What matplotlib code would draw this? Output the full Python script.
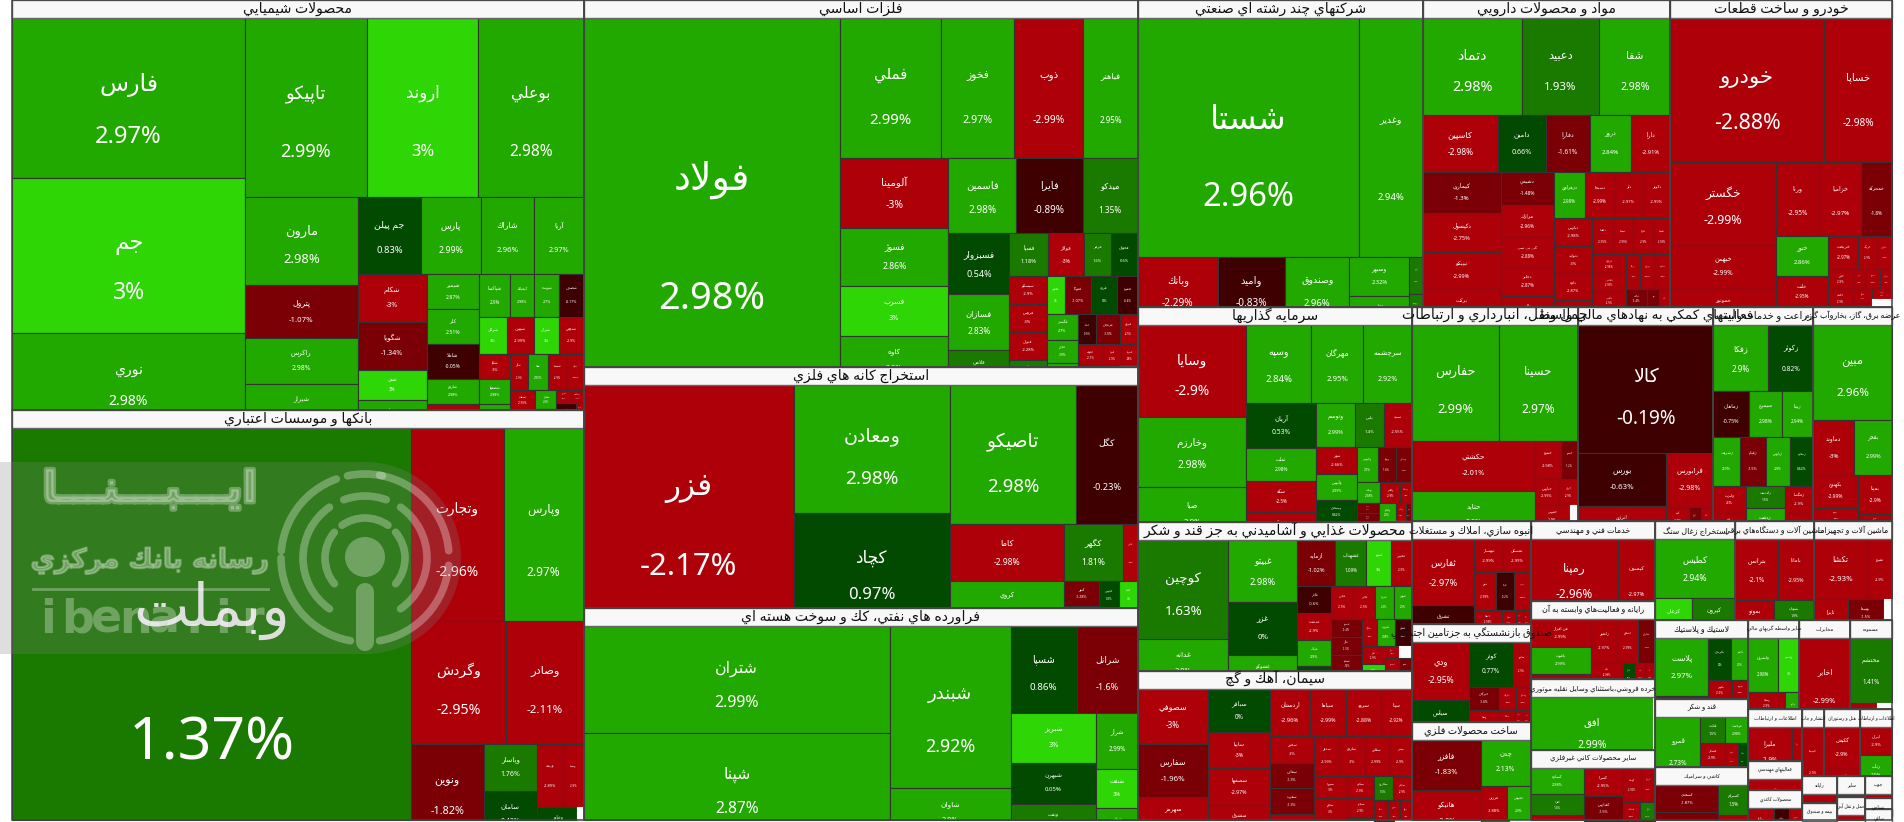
import numpy as np
import matplotlib
matplotlib.use('Agg')
import matplotlib.pyplot as plt
import matplotlib.patheffects as pe
from matplotlib.patches import Arc, Polygon, Rectangle
from matplotlib.transforms import Bbox, TransformedBbox

# Market map of the day: one block per industry, one cell per ticker.
# Each industry has three lists: ticker, daily change in percent, market weight.
# None marks the unused remainder of a block, which stays white.

chem_names = ['فارس', 'جم', 'نوري', 'تاپيكو', 'اروند', 'بوعلي', 'مارون', 'پترول', 'راكرس', 'شيراز',
              'جم پيلن', 'پارس', 'شاراك', 'آريا', 'شكام', 'شگويا', 'شفن', 'شپنا',
              'شيمير', 'كلر', 'شاملا', 'شاروم', 'شغدير', 'شپاكسا', 'كيمياتك', 'شوينده', 'شصدف',
              'شرانل', 'شبهرن', 'شيران', 'شدوص', 'شليا', 'شصفها', 'شلعاب', 'شگل', 'شفا', 'شسينا', 'شلرد',
              'شنفت', 'شتوكا', 'شكلر', 'شفارس', 'شبريز', 'شساخت', 'شكربن', 'شزنگ', 'شرنگي', 'شكف']
chem_changes = [2.97, 3, 2.98, 2.99, 3, 2.98, 2.98, -1.07, 2.98, 2.97,
                0.83, 2.99, 2.96, 2.97, -3, -1.34, 3, 2.9,
                2.87, 2.51, -0.05, 2.98, -2.9, 2.9, 2.98, 2.7, -0.17,
                3, -2.99, 3, -2.9, -3, 2.98, 2.99, -2.9, 2.95, -2.9, -2.98,
                -2.95, 2.9, 2.8, -2.9, -2.7, -2.9, -0.5, -2.9, -2.8, -2.9]
chem_caps = [373, 361, 221, 217, 200, 188, 99, 59, 52, 49,
             49, 46, 41, 38, 33, 33, 21, 19,
             18.5, 18.5, 18, 13.5, 12.5, 13, 10.5, 10.5, 10.5,
             10.2, 9.8, 9.4, 9, 7.8, 7.6, 7.4, 6.4, 7.4, 6.9, 5.9,
             5.2, 4.4, 4, 4, 1.9, 1.7, 3.4, 1.5, 1, 0.8]

bank_names = ['وبملت', 'وتجارت', 'وپارس', 'وگردش', 'وصادر', 'ونوين', 'وپاسار', 'سامان', 'وبيمه', 'وسينا', 'وخاور', '']
bank_changes = [1.37, -2.96, 2.97, -2.95, -2.11, -1.82, 1.76, 0.42, -2.89, -2.9, 0.6, None]
bank_caps = [1632, 179, 154, 117, 95, 69, 25, 25, 16.6, 12.8, 12.5, 1.9]

metal_names = ['فولاد', 'فملي', 'فخوز', 'ذوب', 'فباهنر', 'آلومينا', 'فسوژ', 'فسرب', 'كاوه',
               'فاسمين', 'فايرا', 'ميدكو', 'فسبزوار', 'فسازان', 'فلامي',
               'فسپا', 'فولاژ', 'هرمز', 'فجهان', 'سيسكو', 'فروس', 'فنوال', 'فرآور', 'فخاس',
               'فتوكا', 'فرود', 'فاهواز', 'فگستر', 'فجام', 'فكمند', 'فپنتا',
               'فزنجان', 'فنرژي', 'فلوله', 'فاما', 'فبيرا', 'فمراد', 'فوكا', '']
metal_changes = [2.98, 2.99, 2.97, -2.99, 2.95, -3, 2.86, 3, 2.9,
                 2.98, -0.89, 1.35, 0.54, 2.83, 1.5,
                 1.18, -3, 1.6, 0.6, -2.9, -3, -2.28, 1.5, 3,
                 -1.07, 0, -0.4, 2.7, 2.9, 2.9, -0.6,
                 -1.5, -2.5, -2.7, -1.6, -2.9, -2.8, -2.7, None]
metal_caps = [940, 141, 101, 97, 76, 76, 63, 54, 53,
              51, 50.5, 42, 37, 34, 21,
              16.5, 15, 11.5, 11.5, 10.5, 10.5, 10.5, 9.3, 7,
              10, 10, 8, 8, 7.2, 6.9, 5.5,
              7, 5.5, 5.3, 5, 4, 3.8, 3, 3.5]

mine_names = ['فزر', 'ومعادن', 'كچاد', 'تاصيكو', 'كگل', 'كاما', 'كروي', 'كگهر', 'كبافق', 'كنور', 'كميا', 'كپارس', 'كدما', 'كوير', 'كسرا']
mine_changes = [-2.17, 2.98, 0.97, 2.98, -0.23, -2.98, 2.9, 1.81, -2.9, -1.28, -1.5, 0.3, 3, -2.9, -1.2]
mine_caps = [506, 200, 176, 175, 86, 65, 51, 33.6, 8.6, 8.7, 7, 5.6, 5.3, 3.6, 3]

oil_names = ['شتران', 'شپنا', 'شبندر', 'شاوان', 'شسپا', 'شرانل', 'شبريز', 'شبهرن', 'ونفت', 'شراز', 'شنفت', 'شپاس']
oil_changes = [2.99, 2.87, 2.92, 2.9, 0.86, -1.6, 3, 0.05, 1.5, 2.99, 3, 2.9]
oil_caps = [327, 321, 196, 60, 57, 53, 42.5, 35, 29, 23.5, 16.4, 12.6]

multi_names = ['شستا', 'وغدير', 'وبانك', 'واميد', 'وصندوق', 'وسبهر', 'وملي', 'وآذر', 'وتوسم']
multi_changes = [2.96, 2.94, -2.29, -0.83, 2.96, 2.32, 2.3, 1.5, 1.5]
multi_caps = [526, 152, 54, 46, 43.5, 23.4, 17.4, 5, 4]

pharma_names = ['دتماد', 'دعبيد', 'شفا', 'كاسپين', 'دامين', 'دفارا', 'دروز', 'دارا',
                'كيماري', 'دكپسول', 'تيپيكو', 'بركت',
                'دشيمي', 'مرازك', 'كي بي سي', 'دجابر', 'دالبر',
                'دزهراوي', 'دسبحا', 'دلر', 'دكوثر', 'دپارس', 'دتوليد', 'داوه', 'ددانا',
                'دلقما', 'دسينا', 'دفرا', 'دشيما', 'درازك', 'دقاضي', 'دكيمي',
                'ديران', 'درملا', 'دتهران', 'دماوند', 'دبالك', 'دپويا', 'دبيو', 'دنيك', '']
pharma_changes = [2.98, 1.93, 2.98, -2.98, 0.66, -1.61, 2.84, -2.91,
                  -1.3, -2.75, -2.99, -2.9,
                  -1.48, -2.96, -2.88, -2.87, -2.9,
                  2.98, -2.99, -2.97, -2.99, -2.98, -3, -2.87, -2.9,
                  -2.95, -2.99, -2.9, -2.98, -2.98, -2.95, -2.9,
                  -2.98, -2.9, -2.97, -2.9, -1.4, -2.9, -1.2, -2.9, None]
pharma_caps = [93, 73, 67, 41, 26.5, 23.6, 22.6, 21.5,
               31.5, 29, 28, 27,
               17.3, 17, 15.3, 15.3, 15,
               13.8, 13.3, 12.5, 12.5, 10.2, 10.2, 9.8, 9,
               7.4, 7, 7, 6.1, 6.2, 5.9, 5.8,
               5.2, 4.7, 5, 5, 4, 3.4, 3, 3, 2]

auto_names = ['خودرو', 'خساپا', 'خگستر', 'خبهمن', 'خموتور', 'ورنا', 'خزاميا', 'خمحركه', 'ختور', 'خلنت', 'خكار',
              'خريخت', 'خرينگ', 'خپارس', 'خاور', 'خكمك', 'خشرق', 'خفنر', 'خمهر', 'خديزل', 'خفولا',
              'خنصير', 'خبنيان', 'خوساز', '']
auto_changes = [-2.88, -2.98, -2.99, -2.99, -2.9, -2.95, -2.97, -1.8, 2.86, -2.95, -2.9,
                -2.97, -2.9, -2.9, -2.9, -2.9, -2.9, -2.9, -2.9, -2.9, -2.9,
                -2.9, -2.9, -2.9, None]
auto_caps = [217, 96, 86, 46, 37, 32, 30.5, 22.7, 20.6, 16, 9,
             9.7, 6, 4.8, 5, 4.6, 4.1, 2.4, 3, 2.4, 2.5,
             2.2, 1.9, 1.9, 5]

invest_names = ['وسايا', 'وخارزم', 'صبا', 'وسپه', 'مهرگان', 'سرچشمه', 'آريان', 'ثملت', 'سكه', 'سمكه',
                'وتوسم', 'پاس', 'سپيد', 'شهر', 'وآتوس', 'وسبحان', 'پارس', 'وكبهمن',
                'وپويا', 'ومشان', 'بهپاك', 'ولغدر', 'وسكاب', 'وبوعلي', 'وسمان', 'وسپهر', 'ولتجار', 'وساخت', 'وسنا', '']
invest_changes = [-2.9, 2.98, 2.9, 2.84, 2.95, 2.92, 0.53, 2.98, -2.5, -2.9,
                  2.99, 1.4, -2.55, -2.66, 2.99, 0.62, 2.98, 2.9,
                  -1.6, -1.5, 2.98, -2.9, -2.9, -1.5, -1.4, 0.5, 2.9, -2.9, -1.2, None]
invest_caps = [98, 74, 56, 49.4, 40, 37, 30.8, 22, 21.4, 19,
               16.6, 12.5, 12, 10.9, 10.3, 9.2, 7, 7,
               6, 5.5, 4.7, 4.1, 2.4, 2, 1.9, 3.8, 3, 1.8, 1, 6.2]

food_names = ['كوچين', 'غدانه', 'غبيتو', 'غزر', 'غشوكو', 'ازمايه', 'غشهداب', 'غپينو', 'غفارس',
              'غاذر', 'غدشت', 'غپاك', 'غگرجي', 'غچين', 'غالبر', 'غمهرا', 'غنوش', 'غصينو',
              'غگل', 'غسالم', 'غمينو', 'غمارگ', 'غفروت', 'غشان', 'غلر', 'غديس', 'غناب', 'غويتا', '',
              'غبشهر', 'غسهند', 'غرفاه', 'غكورش']
food_changes = [1.63, 2.9, 2.98, 0, 2.9, -1.02, 1.09, 3, -2.9,
                -0.6, -2.9, 2.9, 0.5, -2.9, -2.9, 2.9, 2.9, -1.4,
                -1.5, -1.6, 2.98, -2.9, 2.98, -0.6, -2.9, 3, 0.5, -2.9, None,
                -2.9, -1.6, -0.4, -0.4]
food_caps = [87, 44, 41.5, 35.5, 22.8, 16.8, 13.8, 11.2, 9,
             9, 9, 8.6, 7.8, 7, 6.9, 6, 5.7, 5.4,
             5.4, 5.1, 5.1, 4, 4.8, 4.5, 4, 3.7, 1.9, 1.7, 1.5,
             3, 2.5, 1.5, 1.2]

cement_names = ['سصوفي', 'سفارس', 'سهرمز', 'سباقر', 'ساپيا', 'سصفها', 'سشرق', 'اردستان', 'سپاها', 'سرود', 'سيتا',
                'سخزر', 'سمازن', 'سغرب', 'سكرما', 'سدور', 'ساروم', 'سقاين', 'سنير',
                'سبزوا', 'سجام', 'سفانو', 'سكرد', 'سبجنو', 'ساوه', 'سكارون', 'سايلم', 'سپاه',
                'سنوين', 'سيلام', 'سدشت', '']
cement_changes = [-3, -1.96, -2.9, 0, -3, -2.97, -2.9, -2.96, -2.99, -2.88, -2.92,
                  -3, -1.3, -1.3, -2.9, -2.99, -3, -2.99, -2.9,
                  -3, -3, -1.6, -2.9, -2.9, -2.9, 1.5, -2.9, -2.9,
                  -2.9, -2.9, -2.9, None]
cement_caps = [36.9, 35.5, 27.5, 25.8, 21.6, 21.6, 20, 18, 16.3, 15.8, 14,
               11, 10.7, 10.7, 10, 9.7, 9.7, 9, 8.8,
               7, 6.7, 6.1, 5.7, 5.1, 5.1, 4.3, 4.4, 3.5,
               3, 2.8, 2.6, 2]

trans_names = ['حفارس', 'حسينا', 'حكشتي', 'حتايد', 'حپترو', 'حسير', 'حپارس', 'حريل', 'حفرس', 'حتوكا', '']
trans_changes = [2.99, 2.97, -2.01, 2.9, -2.98, -1.2, -2.99, -2.9, -2.9, -2.9, None]
trans_caps = [101, 93, 61.5, 59, 9.9, 6.8, 6.2, 4.8, 8, 4.2, 2.8]

aux_names = ['كالا', 'بورس', 'انرژي', 'فرابورس', 'آتيه', 'سپرده', 'اوراق', 'ساتا', 'تسويه']
aux_changes = [-0.19, -0.63, -2.9, -2.98, -2.9, -2.9, -1.5, -2.9, -2.9]
aux_caps = [170, 45, 28.6, 25, 5, 2.6, 2.6, 3, 2]

agri_names = ['زفكا', 'زكوثر', 'زماهان', 'سيمرغ', 'زبينا', 'زشريف', 'زقيام', 'زپارس', 'زملارد', 'ولبرت',
              'زنگان', 'زگلدشت', 'زدشت', 'زمگسا', 'زشام']
agri_changes = [2.9, 0.82, -0.75, 2.98, 2.94, 2.9, -1.5, 2.9, 0.62, -3, -2.9, 1.5, 2.9, -2.9, -2.9]
agri_caps = [36.3, 29.7, 16.2, 14.9, 14, 13.2, 12.7, 11.8, 11.3, 8.6, 8.6, 8.4, 12, 7.6, 7.4]

power_names = ['مبين', 'دماوند', 'بفجر', 'بكهنوج', 'بپيوند', 'بزاگرس', 'بمپنا', 'بسويچ', '']
power_changes = [2.96, -3, 2.99, -2.99, -2.9, -1.8, -2.9, -2.9, None]
power_caps = [72.7, 21.7, 20, 14.4, 7.2, 6.5, 13, 3.9, 4.2]

build_names = ['ثفارس', 'ثشرق', 'ثبهساز', 'ثمسكن', 'ثنور', 'ثاباد', 'ثغرب', 'ثاصفا', 'ثپرديس', 'ثعمرا', 'ثرود', 'ثتران', 'ثنوسا', 'ثزاگرس']
build_changes = [-2.97, -0.9, -2.99, -2.99, -2.99, -0.2, -2.99, -2.99, -2.9, -2.9, -2.9, -2.9, -2.9, -2.9]
build_caps = [37.6, 21, 8.6, 8.2, 7.4, 6.5, 5.7, 4.6, 3.4, 2.2, 1.2, 1.3, 2, 1.5]

pension_names = ['ودي', 'سياس', 'كوثر', 'ساتور', 'خبرگان', 'وسنا', 'ولساپا', 'ساراك', 'وفتخار', 'سمگا', 'كاريز', 'ركشت', 'اميد', '']
pension_changes = [-2.95, 0.2, 0.77, -2.9, -1.6, -2.9, 0.5, -2.9, -2.9, -2.9, -2.9, -2.9, -2.9, None]
pension_caps = [30.7, 21, 18, 7.4, 6.4, 5.2, 2.8, 3.5, 3.2, 2.3, 1.8, 1.2, 1.1, 2]

fab_names = ['فافزر', 'هانيكو', 'چدن', 'فزرين', 'فجوش', 'فنوا', '']
fab_changes = [-1.83, -2.9, 2.13, -2.88, 2.9, 1.5, None]
fab_caps = [34.7, 32.6, 23, 9.8, 8.7, 4.2, 3]

tech_names = ['رمپنا', 'كيسون']
tech_changes = [-2.96, -2.97]
tech_caps = [69.6, 29.6]

it_names = ['فن افزار', 'ياقوت', 'پرداخت', 'رانفور', 'انتظام', 'مداران', 'تاپ', 'سيستم', 'ماهان', 'آسيا', 'دانا', 'فناوا', 'مبنا', '']
it_changes = [-2.99, 2.99, -3, -2.97, -2.99, -1.4, -2.99, -2.99, 0.6, -2.99, -2.9, -2.9, -2.9, None]
it_caps = [14.6, 14, 12.4, 10.2, 8.2, 6.5, 5.1, 4.6, 2.3, 1.9, 2, 1.6, 1.2, 0.8]

retail_names = ['افق', '']
retail_changes = [2.99, None]
retail_caps = [86.6, 1.4]

mineral_names = ['كساوه', 'كفرا', 'كاذر', 'كسرا', 'كفپارس', 'كلوند', 'كهمدا', 'كرمان', 'كصدف', 'كتاژ', 'كباده', 'كرازي']
mineral_changes = [2.98, 1.4, -2.9, -2.95, -1.5, -2.9, -2.92, -2.9, -2.9, 1.5, -2.9, -2.9]
mineral_caps = [12.5, 10, 11, 9.6, 8.8, 6, 5.4, 4.3, 3.4, 3.2, 2, 2]

coal_names = ['كطبس', 'كزغال', 'كپرون']
coal_changes = [2.94, 3, 1.7]
coal_caps = [47, 14.8, 17.2]

elec_names = ['بترانس', 'باماتا', 'بموتو', 'بشهاب', 'برقي']
elec_changes = [-2.1, -2.95, -2.98, 1.9, -2.9]
elec_caps = [26.2, 22, 14.8, 9.5, 5.7]

mach_names = ['تكشا', 'تفيرو', 'ثايرا', 'بهپيما', 'تپمپي', '']
mach_changes = [-2.93, -2.9, -2.9, -1.5, -2.9, None]
mach_caps = [31.8, 15, 12.9, 9.6, 4.3, 3.2]

rubber_names = ['پلاست', 'پلوله', 'پكرمان', 'پاكشو', 'پكوير', 'پدرو', 'پسهند', '']
rubber_changes = [2.97, -2.9, 0, 2.9, -2.9, -2.9, -2.9, None]
rubber_caps = [30.7, 11, 9.6, 7.1, 5, 3.8, 3.2, 2.8]

sugar_names = ['قمرو', 'قثابت', 'قهكمت', 'قشكر', 'قچار', 'قشير', 'قنيشا', 'قپيرا', 'قلرست']
sugar_changes = [2.73, 1.5, 2.98, -2.9, -2.99, -2.9, 0.3, -2.9, -2.9]
sugar_caps = [27.6, 5.9, 5.6, 5, 4.2, 3.2, 2.7, 2, 1]

tile_names = ['كسعدي', 'كلوند', 'كسرام', 'كايتا']
tile_changes = [-1.87, -1.2, 1.5, -2.9]
tile_caps = [17, 16, 9, 6.9]

broker_names = ['ولشرق', 'ولصنم', 'وساپا', 'ولپارس', 'وكادو']
broker_changes = [2.98, 3, -2.9, -2.9, 2.9]
broker_caps = [16, 11.5, 7.4, 5.1, 4.8]

telecom_names = ['اخابر']
telecom_changes = [-2.99]
telecom_caps = [45.4]

misc_names = ['محتشم', 'خدمات', '']
misc_changes = [1.41, -2.9, None]
misc_caps = [27, 6.2, 3.4]

# the smallest industries, a ticker or two each
small_titles = ['اطلاعات و ارتباطات', 'فعاليتهاي مهندسي', 'محصولات كاغذي', 'انتشار و چاپ', 'هتل و رستوران',
                'اطلاعات و ارتباطات', 'رايانه', 'بيمه و صندوق', 'ساير', 'حمل و نقل آبي', 'چوب', 'نساجي', 'دباغي']
small_names = [['مليرا', 'رسا'], ['حفاري'], ['پتانيا', 'چكاوه', 'چفيبر'], ['كيمياد'], ['گكيش', 'گپارس'],
               ['ايران', 'رتاپ', ''], ['وبشهر'], ['بالبر'], ['حكمت'], ['حپرس'], ['چوكا'], ['نساج'], ['دباغ']]
small_changes = [[-2.9, -2.9], [-2.9], [-2.9, -0.6, -2.9], [-2.9], [-2.9, -2.9],
                 [-2.9, 2.9, None], [-2.9], [1.5], [-2.9], [-2.9], [-2.9], [-2.9], [-2.9]]
small_caps = [[22, 5.3], [16], [6.2, 3.5, 3.2], [15], [15.2, 8.9],
              [9.2, 9.9, 2.6], [9.3], [6], [6], [6.5], [5.8], [3], [2.8]]
small_sizes = [27.7, 16, 15.8, 15, 24, 21.7, 9.3, 6, 6, 6.5, 5.8, 3, 2.8]

sector_titles = ['محصولات شيميايي', 'بانكها و موسسات اعتباري', 'فلزات اساسي', 'استخراج كانه هاي فلزي',
                 'فراورده هاي نفتي، كك و سوخت هسته اي', 'شركتهاي چند رشته اي صنعتي', 'مواد و محصولات دارويي',
                 'خودرو و ساخت قطعات', 'سرمايه گذاريها', 'محصولات غذايي و آشاميدني به جز قند و شكر',
                 'سيمان، آهك و گچ', 'حمل ونقل، انبارداري و ارتباطات', 'فعاليتهاي كمكي به نهادهاي مالي واسط',
                 'زراعت و خدمات وابسته', 'عرضه برق، گاز، بخاروآب گرم', 'انبوه سازي، املاك و مستغلات',
                 'صندوق بازنشستگي به جزتامين اجتماعي', 'ساخت محصولات فلزي', 'خدمات فني و مهندسي',
                 'رايانه و فعاليت\u200cهاي وابسته به آن', 'خرده فروشي،باستثناي وسايل نقليه موتوري',
                 'ساير محصولات كاني غيرفلزي', 'استخراج زغال سنگ', 'ماشين آلات و دستگاه\u200cهاي برقي',
                 'ماشين آلات و تجهيزات', 'لاستيك و پلاستيك', 'قند و شكر', 'كاشي و سراميك',
                 'ساير واسطه گريهاي مالي', 'مخابرات', 'مسموده'] + small_titles
sector_sizes = [2341, 2341, 2033, 1335, 1174, 872, 759, 679, 590, 407, 407, 357, 289, 214, 169,
                122, 116, 117, 99, 98, 88, 87, 79, 78, 77, 73, 64, 49, 45, 45, 37] + small_sizes
sector_names = [chem_names, bank_names, metal_names, mine_names, oil_names, multi_names, pharma_names,
                auto_names, invest_names, food_names, cement_names, trans_names, aux_names, agri_names,
                power_names, build_names, pension_names, fab_names, tech_names, it_names, retail_names,
                mineral_names, coal_names, elec_names, mach_names, rubber_names, sugar_names, tile_names,
                broker_names, telecom_names, misc_names] + small_names
sector_changes = [chem_changes, bank_changes, metal_changes, mine_changes, oil_changes, multi_changes,
                  pharma_changes, auto_changes, invest_changes, food_changes, cement_changes, trans_changes,
                  aux_changes, agri_changes, power_changes, build_changes, pension_changes, fab_changes,
                  tech_changes, it_changes, retail_changes, mineral_changes, coal_changes, elec_changes,
                  mach_changes, rubber_changes, sugar_changes, tile_changes, broker_changes, telecom_changes,
                  misc_changes] + small_changes
sector_caps = [chem_caps, bank_caps, metal_caps, mine_caps, oil_caps, multi_caps, pharma_caps, auto_caps,
               invest_caps, food_caps, cement_caps, trans_caps, aux_caps, agri_caps, power_caps, build_caps,
               pension_caps, fab_caps, tech_caps, it_caps, retail_caps, mineral_caps, coal_caps, elec_caps,
               mach_caps, rubber_caps, sugar_caps, tile_caps, broker_caps, telecom_caps, misc_caps] + small_caps

HEADER = 18
PHI = (1 + 5 ** 0.5) / 2
# blocks that open with full-width rows of this many cells
LEAD_ROWS = {'مواد و محصولات دارويي': (3, 5)}

# Persian shaping: matplotlib has no text layout for Arabic script, so the
# presentation forms are picked here (isolated, final, initial, medial).
FORMS = {'ء': (0xFE80,), 'آ': (0xFE81, 0xFE82), 'أ': (0xFE83, 0xFE84), 'ؤ': (0xFE85, 0xFE86),
         'إ': (0xFE87, 0xFE88), 'ئ': (0xFE89, 0xFE8A, 0xFE8B, 0xFE8C), 'ا': (0xFE8D, 0xFE8E),
         'ب': (0xFE8F, 0xFE90, 0xFE91, 0xFE92), 'ة': (0xFE93, 0xFE94), 'ت': (0xFE95, 0xFE96, 0xFE97, 0xFE98),
         'ث': (0xFE99, 0xFE9A, 0xFE9B, 0xFE9C), 'ج': (0xFE9D, 0xFE9E, 0xFE9F, 0xFEA0),
         'ح': (0xFEA1, 0xFEA2, 0xFEA3, 0xFEA4), 'خ': (0xFEA5, 0xFEA6, 0xFEA7, 0xFEA8),
         'د': (0xFEA9, 0xFEAA), 'ذ': (0xFEAB, 0xFEAC), 'ر': (0xFEAD, 0xFEAE), 'ز': (0xFEAF, 0xFEB0),
         'س': (0xFEB1, 0xFEB2, 0xFEB3, 0xFEB4), 'ش': (0xFEB5, 0xFEB6, 0xFEB7, 0xFEB8),
         'ص': (0xFEB9, 0xFEBA, 0xFEBB, 0xFEBC), 'ض': (0xFEBD, 0xFEBE, 0xFEBF, 0xFEC0),
         'ط': (0xFEC1, 0xFEC2, 0xFEC3, 0xFEC4), 'ظ': (0xFEC5, 0xFEC6, 0xFEC7, 0xFEC8),
         'ع': (0xFEC9, 0xFECA, 0xFECB, 0xFECC), 'غ': (0xFECD, 0xFECE, 0xFECF, 0xFED0),
         'ف': (0xFED1, 0xFED2, 0xFED3, 0xFED4), 'ق': (0xFED5, 0xFED6, 0xFED7, 0xFED8),
         'ك': (0xFED9, 0xFEDA, 0xFEDB, 0xFEDC), 'ل': (0xFEDD, 0xFEDE, 0xFEDF, 0xFEE0),
         'م': (0xFEE1, 0xFEE2, 0xFEE3, 0xFEE4), 'ن': (0xFEE5, 0xFEE6, 0xFEE7, 0xFEE8),
         'ه': (0xFEE9, 0xFEEA, 0xFEEB, 0xFEEC), 'و': (0xFEED, 0xFEEE), 'ى': (0xFEEF, 0xFEF0),
         'ي': (0xFEF1, 0xFEF2, 0xFEF3, 0xFEF4), 'پ': (0xFB56, 0xFB57, 0xFB58, 0xFB59),
         'چ': (0xFB7A, 0xFB7B, 0xFB7C, 0xFB7D), 'ژ': (0xFB8A, 0xFB8B),
         'ک': (0xFB8E, 0xFB8F, 0xFB90, 0xFB91), 'گ': (0xFB92, 0xFB93, 0xFB94, 0xFB95),
         'ی': (0xFBFC, 0xFBFD, 0xFBFE, 0xFBFF)}
LAM_ALEF = {'ا': (0xFEFB, 0xFEFC), 'آ': (0xFEF5, 0xFEF6), 'أ': (0xFEF7, 0xFEF8), 'إ': (0xFEF9, 0xFEFA)}
KASHIDA = '\u0640'


def joins_next(ch):
    return ch == KASHIDA or (ch in FORMS and len(FORMS[ch]) == 4)


def joins_prev(ch):
    return ch == KASHIDA or (ch in FORMS and len(FORMS[ch]) > 1)


def shape(text):
    out = []
    i = 0
    while i < len(text):
        ch = text[i]
        prev = text[i - 1] if i > 0 else ' '
        nxt = text[i + 1] if i + 1 < len(text) else ' '
        if ch == '\u200c':
            i += 1
            continue
        if ch == 'ل' and nxt in LAM_ALEF:
            out.append(chr(LAM_ALEF[nxt][1 if joins_next(prev) else 0]))
            i += 2
            continue
        if ch in FORMS:
            forms = FORMS[ch]
            before = joins_next(prev)
            after = len(forms) == 4 and joins_prev(nxt)
            idx = 3 if before and after else 1 if before and len(forms) > 1 else 2 if after else 0
            out.append(chr(forms[idx]))
        else:
            out.append(ch)
        i += 1
    return ''.join(reversed(out))


def squarify(values, x0, y0, x1, y1, lead=()):
    # Golden-ratio squarified layout, rows taken in the given order.
    rects = [None] * len(values)
    remaining = float(sum(values))
    i0 = 0
    n = len(values)
    lead = list(lead)
    while i0 < n:
        dx, dy = x1 - x0, y1 - y0
        if lead:
            i1 = i0 + lead.pop(0)
            total = sum(values[i0:i1])
            across = True
        else:
            total = values[i0]
            lo = hi = total
            alpha = max(dy / dx, dx / dy) / (remaining * PHI)
            beta = total * total * alpha
            best = max(hi / beta, beta / lo)
            i1 = i0 + 1
            while i1 < n:
                v = values[i1]
                beta = (total + v) ** 2 * alpha
                ratio = max(max(hi, v) / beta, beta / min(lo, v))
                if ratio > best:
                    break
                total += v
                lo, hi = min(lo, v), max(hi, v)
                best = ratio
                i1 += 1
            across = dx < dy
        if across:
            # row across the top
            row_h = dy * total / remaining
            cx = x0
            for k in range(i0, i1):
                w = dx * values[k] / total
                rects[k] = (cx, y0, cx + w, y0 + row_h)
                cx += w
            y0 += row_h
        else:
            # column down the left side
            col_w = dx * total / remaining
            cy = y0
            for k in range(i0, i1):
                h = dy * values[k] / total
                rects[k] = (x0, cy, x0 + col_w, cy + h)
                cy += h
            x0 += col_w
        remaining -= total
        i0 = i1
    return rects


def change_color(pct):
    if pct is None:
        return '#fbfbfb'
    if pct >= 3:
        return '#2dd604'
    if pct >= 2:
        return '#22a900'
    if pct >= 1:
        return '#1a7a00'
    if pct >= 0:
        return '#024a00'
    if pct > -1:
        return '#3f0002'
    if pct > -2:
        return '#7a0005'
    return '#ae0009'


fig = plt.figure(figsize=(19.04, 8.22), dpi=100, facecolor='white')
ax = fig.add_axes([0, 0, 1, 1])
ax.set_xlim(0, 1904)
ax.set_ylim(822, 0)
ax.axis('off')

label_font = ['Noto Sans', 'DejaVu Sans']
sector_boxes = squarify(sector_sizes, 12, 0, 1892, 820)

for bounds, title, names, changes, caps in zip(sector_boxes, sector_titles, sector_names, sector_changes,
                                               sector_caps, strict=True):
    sx0, sy0, sx1, sy1 = bounds
    sw, sh = sx1 - sx0, sy1 - sy0
    clip = TransformedBbox(Bbox([[sx0, sy0], [sx1, sy1]]), ax.transData)

    # the cell layout keeps the full block height, so its bottom edge runs under the next block
    cells = squarify(caps, sx0, sy0 + HEADER, sx1, sy1 + HEADER, LEAD_ROWS.get(title, ()))
    for (x0, y0, x1, y1), name, pct in zip(cells, names, changes, strict=True):
        ax.add_patch(Rectangle((x0, y0), x1 - x0, min(y1, sy1) - y0, facecolor=change_color(pct),
                               edgecolor='#333333' if pct is not None else '#fbfbfb', linewidth=0.8, zorder=2))
        if pct is None:
            continue
        w, h = x1 - x0, y1 - y0
        size = 0.148 * min(w, h) * 0.72
        # taller cells push both lines further down
        name_y = np.interp(h, [50, 90, 160, 400], [0.33, 0.39, 0.42, 0.445])
        for frac, label in ((name_y, shape(name)), (name_y + 0.325, f'{pct:g}%')):
            txt = ax.text((x0 + x1) / 2, y0 + h * frac, label, color='white', fontsize=size, ha='center',
                          va='center', family=label_font, zorder=3, clip_on=True)
            txt.set_clip_box(clip)

    ax.add_patch(Rectangle((sx0, sy0), sw, HEADER, facecolor='#f8f8f8', edgecolor='#666666', linewidth=1.0, zorder=4))
    ax.add_patch(Rectangle((sx0, sy0), sw, sh, fill=False, edgecolor='#444444', linewidth=1.1, zorder=5))

# headers go on last, long titles spill over the neighbouring block
for bounds, title in zip(sector_boxes, sector_titles):
    sx0, sy0, sx1, sy1 = bounds
    size = max(4.5, min(14, 0.1 * min(sx1 - sx0, sy1 - sy0))) * 0.72
    ax.text((sx0 + sx1) / 2, sy0 + HEADER / 2, shape(title), color='#111111', fontsize=size, ha='center',
            va='center', family=label_font, zorder=6)

# news agency stamp over the lower left blocks
cx, cy, radius = 365, 558, 96
theta = np.linspace(-np.pi / 2, np.pi / 2, 60)
outline = [(0, cy - radius)] + [(cx + radius * np.cos(t), cy + radius * np.sin(t)) for t in theta] + [(0, cy + radius)]
ax.add_patch(Polygon(outline, closed=True, facecolor='#7f7f7f', edgecolor='none', alpha=0.25, zorder=7))

stamp = dict(color='white', alpha=0.3, zorder=8, ha='center', va='center', family='DejaVu Sans', fontweight='bold')
ax.text(150, 490, shape('ايـــبـــنـــا'), fontsize=31,
        path_effects=[pe.Stroke(linewidth=3.5, foreground='white', alpha=0.3)], **stamp)
ax.text(150, 561, shape('رسانه بانك مركزي'), fontsize=19,
        path_effects=[pe.Stroke(linewidth=1.5, foreground='white', alpha=0.3)], **stamp)
for x, letter in zip(np.linspace(48, 252, 8), 'ibena.ir'):
    ax.text(x, 620, letter, fontsize=33, **stamp)
ax.plot([33, 268], [589, 589], color='white', alpha=0.3, lw=2, zorder=8)

ax.add_patch(plt.Circle((cx, cy - 1), 20, facecolor='white', edgecolor='none', alpha=0.3, zorder=8))
ax.plot([cx, cx], [592, 642], color='white', alpha=0.3, lw=13, solid_capstyle='round', zorder=8)
ring_spans = [(40, [(140, 220), (-40, 40), (235, 305)]),
              (62, [(125, 235), (-55, 55), (250, 290)]),
              (84, [(100, 180), (185, 250), (-80, -5), (5, 80), (258, 282)])]
for ring, spans in ring_spans:
    for a0, a1 in spans:
        ax.add_patch(Arc((cx, cy), 2 * ring, 2 * ring, theta1=a0, theta2=a1, color='white', alpha=0.3,
                         lw=5.5, capstyle='round', zorder=8))

fig.savefig('out.png', dpi=100, facecolor='white')
